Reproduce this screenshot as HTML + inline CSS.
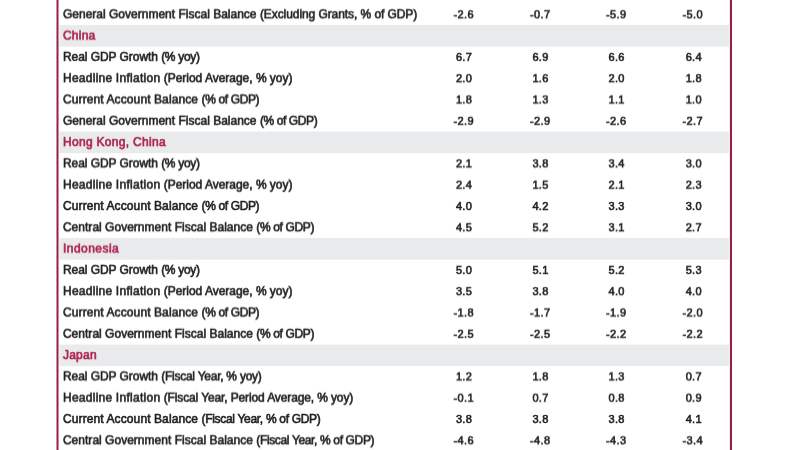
<!DOCTYPE html>
<html><head><meta charset="utf-8"><title>Economic Indicators</title>
<style>
html,body{margin:0;padding:0;background:#fff;}
body{width:800px;height:450px;overflow:hidden;position:relative;font-family:"Liberation Sans",sans-serif;font-size:12px;color:#231f20;}
.bg{position:absolute;left:0;top:0;}
.lab,.n{position:absolute;left:0;top:0;height:22px;line-height:22px;white-space:pre;-webkit-text-stroke:0.6px currentColor;}
.h{color:#ad2450;-webkit-text-stroke:0.65px currentColor;}
.n{text-align:right;width:60px;font-size:11px;}
</style></head><body>

<svg class="bg" width="800" height="450" viewBox="0 0 800 450"><rect x="59.3" y="25.05" width="669.5" height="21.6" fill="#e9eaec"/><rect x="59.3" y="131.55" width="669.5" height="21.6" fill="#e9eaec"/><rect x="59.3" y="238.05" width="669.5" height="21.6" fill="#e9eaec"/><rect x="59.3" y="344.55" width="669.5" height="21.6" fill="#e9eaec"/><rect x="56.5" y="0" width="2" height="450" fill="#94204a"/><rect x="729.9" y="0" width="2.1" height="450" fill="#94204a"/></svg>
<svg width="0" height="0" style="position:absolute"><defs><filter id="f1" x="-2%" y="-15%" width="104%" height="130%" color-interpolation-filters="sRGB"><feConvolveMatrix order="1 2" kernelMatrix="0.9 0.1" targetX="0" targetY="1" edgeMode="none" preserveAlpha="false" divisor="1"/></filter><filter id="f2" x="-2%" y="-15%" width="104%" height="130%" color-interpolation-filters="sRGB"><feConvolveMatrix order="1 2" kernelMatrix="0.8 0.2" targetX="0" targetY="1" edgeMode="none" preserveAlpha="false" divisor="1"/></filter><filter id="f3" x="-2%" y="-15%" width="104%" height="130%" color-interpolation-filters="sRGB"><feConvolveMatrix order="1 2" kernelMatrix="0.7 0.3" targetX="0" targetY="1" edgeMode="none" preserveAlpha="false" divisor="1"/></filter><filter id="f4" x="-2%" y="-15%" width="104%" height="130%" color-interpolation-filters="sRGB"><feConvolveMatrix order="1 2" kernelMatrix="0.6 0.4" targetX="0" targetY="1" edgeMode="none" preserveAlpha="false" divisor="1"/></filter><filter id="f5" x="-2%" y="-15%" width="104%" height="130%" color-interpolation-filters="sRGB"><feConvolveMatrix order="1 2" kernelMatrix="0.5 0.5" targetX="0" targetY="1" edgeMode="none" preserveAlpha="false" divisor="1"/></filter><filter id="f6" x="-2%" y="-15%" width="104%" height="130%" color-interpolation-filters="sRGB"><feConvolveMatrix order="1 2" kernelMatrix="0.4 0.6" targetX="0" targetY="1" edgeMode="none" preserveAlpha="false" divisor="1"/></filter><filter id="f7" x="-2%" y="-15%" width="104%" height="130%" color-interpolation-filters="sRGB"><feConvolveMatrix order="1 2" kernelMatrix="0.3 0.7" targetX="0" targetY="1" edgeMode="none" preserveAlpha="false" divisor="1"/></filter><filter id="f8" x="-2%" y="-15%" width="104%" height="130%" color-interpolation-filters="sRGB"><feConvolveMatrix order="1 2" kernelMatrix="0.2 0.8" targetX="0" targetY="1" edgeMode="none" preserveAlpha="false" divisor="1"/></filter><filter id="f9" x="-2%" y="-15%" width="104%" height="130%" color-interpolation-filters="sRGB"><feConvolveMatrix order="1 2" kernelMatrix="0.1 0.9" targetX="0" targetY="1" edgeMode="none" preserveAlpha="false" divisor="1"/></filter></defs></svg>
<div><span class="lab" style="left:62.95px;top:3px;filter:url(#f3)"><span style="letter-spacing:0.006px;word-spacing:-0.006px">General Government Fiscal Balance </span><span style="letter-spacing:-0.074px">(Excluding Grants, % of GDP)</span></span><span class="n" style="left:414.10px;top:3px;letter-spacing:0.4px;filter:url(#f3)">-2.6</span><span class="n" style="left:490.60px;top:3px;letter-spacing:0.4px;filter:url(#f3)">-0.7</span><span class="n" style="left:566.60px;top:3px;letter-spacing:0.4px;filter:url(#f3)">-5.9</span><span class="n" style="left:643.10px;top:3px;letter-spacing:0.4px;filter:url(#f3)">-5.0</span></div>
<div><span class="lab h" style="left:62.95px;top:24px;letter-spacing:0.248px;filter:url(#f6)">China</span></div>
<div><span class="lab" style="left:62.95px;top:45px;filter:url(#f9)"><span style="letter-spacing:-0.070px;word-spacing:0.070px">Real GDP Growth </span><span style="letter-spacing:-0.312px">(% yoy)</span></span><span class="n" style="left:412.10px;top:45px;letter-spacing:0.3px;filter:url(#f9)">6.7</span><span class="n" style="left:488.60px;top:45px;letter-spacing:0.3px;filter:url(#f9)">6.9</span><span class="n" style="left:564.70px;top:45px;letter-spacing:0.3px;filter:url(#f9)">6.6</span><span class="n" style="left:641.90px;top:45px;letter-spacing:0.3px;filter:url(#f9)">6.4</span></div>
<div><span class="lab" style="left:62.95px;top:67px;filter:url(#f2)"><span style="letter-spacing:0.275px;word-spacing:-0.275px">Headline Inflation </span><span style="letter-spacing:-0.018px">(Period Average, % yoy)</span></span><span class="n" style="left:412.10px;top:67px;letter-spacing:0.3px;filter:url(#f2)">2.0</span><span class="n" style="left:488.60px;top:67px;letter-spacing:0.3px;filter:url(#f2)">1.6</span><span class="n" style="left:564.70px;top:67px;letter-spacing:0.3px;filter:url(#f2)">2.0</span><span class="n" style="left:641.90px;top:67px;letter-spacing:0.3px;filter:url(#f2)">1.8</span></div>
<div><span class="lab" style="left:62.95px;top:88px;filter:url(#f5)"><span style="letter-spacing:0.118px;word-spacing:-0.118px">Current Account Balance </span><span style="letter-spacing:-0.360px">(% of GDP)</span></span><span class="n" style="left:412.10px;top:88px;letter-spacing:0.3px;filter:url(#f5)">1.8</span><span class="n" style="left:488.60px;top:88px;letter-spacing:0.3px;filter:url(#f5)">1.3</span><span class="n" style="left:564.70px;top:88px;letter-spacing:0.3px;filter:url(#f5)">1.1</span><span class="n" style="left:641.90px;top:88px;letter-spacing:0.3px;filter:url(#f5)">1.0</span></div>
<div><span class="lab" style="left:62.95px;top:109px;filter:url(#f8)"><span style="letter-spacing:0.006px;word-spacing:-0.006px">General Government Fiscal Balance </span><span style="letter-spacing:-0.394px">(% of GDP)</span></span><span class="n" style="left:414.10px;top:109px;letter-spacing:0.4px;filter:url(#f8)">-2.9</span><span class="n" style="left:490.60px;top:109px;letter-spacing:0.4px;filter:url(#f8)">-2.9</span><span class="n" style="left:566.60px;top:109px;letter-spacing:0.4px;filter:url(#f8)">-2.6</span><span class="n" style="left:643.10px;top:109px;letter-spacing:0.4px;filter:url(#f8)">-2.7</span></div>
<div><span class="lab h" style="left:62.95px;top:131px;letter-spacing:0.315px;filter:url(#f1)">Hong Kong, China</span></div>
<div><span class="lab" style="left:62.95px;top:152px;filter:url(#f4)"><span style="letter-spacing:-0.070px;word-spacing:0.070px">Real GDP Growth </span><span style="letter-spacing:-0.312px">(% yoy)</span></span><span class="n" style="left:412.10px;top:152px;letter-spacing:0.3px;filter:url(#f4)">2.1</span><span class="n" style="left:488.60px;top:152px;letter-spacing:0.3px;filter:url(#f4)">3.8</span><span class="n" style="left:564.70px;top:152px;letter-spacing:0.3px;filter:url(#f4)">3.4</span><span class="n" style="left:641.90px;top:152px;letter-spacing:0.3px;filter:url(#f4)">3.0</span></div>
<div><span class="lab" style="left:62.95px;top:173px;filter:url(#f7)"><span style="letter-spacing:0.275px;word-spacing:-0.275px">Headline Inflation </span><span style="letter-spacing:-0.018px">(Period Average, % yoy)</span></span><span class="n" style="left:412.10px;top:173px;letter-spacing:0.3px;filter:url(#f7)">2.4</span><span class="n" style="left:488.60px;top:173px;letter-spacing:0.3px;filter:url(#f7)">1.5</span><span class="n" style="left:564.70px;top:173px;letter-spacing:0.3px;filter:url(#f7)">2.1</span><span class="n" style="left:641.90px;top:173px;letter-spacing:0.3px;filter:url(#f7)">2.3</span></div>
<div><span class="lab" style="left:62.95px;top:195px"><span style="letter-spacing:0.118px;word-spacing:-0.118px">Current Account Balance </span><span style="letter-spacing:-0.360px">(% of GDP)</span></span><span class="n" style="left:412.10px;top:195px;letter-spacing:0.3px">4.0</span><span class="n" style="left:488.60px;top:195px;letter-spacing:0.3px">4.2</span><span class="n" style="left:564.70px;top:195px;letter-spacing:0.3px">3.3</span><span class="n" style="left:641.90px;top:195px;letter-spacing:0.3px">3.0</span></div>
<div><span class="lab" style="left:62.95px;top:216px;filter:url(#f3)"><span style="letter-spacing:0.020px;word-spacing:-0.020px">Central Government Fiscal Balance </span><span style="letter-spacing:-0.360px">(% of GDP)</span></span><span class="n" style="left:412.10px;top:216px;letter-spacing:0.3px;filter:url(#f3)">4.5</span><span class="n" style="left:488.60px;top:216px;letter-spacing:0.3px;filter:url(#f3)">5.2</span><span class="n" style="left:564.70px;top:216px;letter-spacing:0.3px;filter:url(#f3)">3.1</span><span class="n" style="left:641.90px;top:216px;letter-spacing:0.3px;filter:url(#f3)">2.7</span></div>
<div><span class="lab h" style="left:62.95px;top:237px;letter-spacing:0.475px;filter:url(#f6)">Indonesia</span></div>
<div><span class="lab" style="left:62.95px;top:258px;filter:url(#f9)"><span style="letter-spacing:-0.070px;word-spacing:0.070px">Real GDP Growth </span><span style="letter-spacing:-0.312px">(% yoy)</span></span><span class="n" style="left:412.10px;top:258px;letter-spacing:0.3px;filter:url(#f9)">5.0</span><span class="n" style="left:488.60px;top:258px;letter-spacing:0.3px;filter:url(#f9)">5.1</span><span class="n" style="left:564.70px;top:258px;letter-spacing:0.3px;filter:url(#f9)">5.2</span><span class="n" style="left:641.90px;top:258px;letter-spacing:0.3px;filter:url(#f9)">5.3</span></div>
<div><span class="lab" style="left:62.95px;top:280px;filter:url(#f2)"><span style="letter-spacing:0.275px;word-spacing:-0.275px">Headline Inflation </span><span style="letter-spacing:-0.018px">(Period Average, % yoy)</span></span><span class="n" style="left:412.10px;top:280px;letter-spacing:0.3px;filter:url(#f2)">3.5</span><span class="n" style="left:488.60px;top:280px;letter-spacing:0.3px;filter:url(#f2)">3.8</span><span class="n" style="left:564.70px;top:280px;letter-spacing:0.3px;filter:url(#f2)">4.0</span><span class="n" style="left:641.90px;top:280px;letter-spacing:0.3px;filter:url(#f2)">4.0</span></div>
<div><span class="lab" style="left:62.95px;top:301px;filter:url(#f5)"><span style="letter-spacing:0.118px;word-spacing:-0.118px">Current Account Balance </span><span style="letter-spacing:-0.360px">(% of GDP)</span></span><span class="n" style="left:414.10px;top:301px;letter-spacing:0.4px;filter:url(#f5)">-1.8</span><span class="n" style="left:490.60px;top:301px;letter-spacing:0.4px;filter:url(#f5)">-1.7</span><span class="n" style="left:566.60px;top:301px;letter-spacing:0.4px;filter:url(#f5)">-1.9</span><span class="n" style="left:643.10px;top:301px;letter-spacing:0.4px;filter:url(#f5)">-2.0</span></div>
<div><span class="lab" style="left:62.95px;top:322px;filter:url(#f8)"><span style="letter-spacing:0.020px;word-spacing:-0.020px">Central Government Fiscal Balance </span><span style="letter-spacing:-0.360px">(% of GDP)</span></span><span class="n" style="left:414.10px;top:322px;letter-spacing:0.4px;filter:url(#f8)">-2.5</span><span class="n" style="left:490.60px;top:322px;letter-spacing:0.4px;filter:url(#f8)">-2.5</span><span class="n" style="left:566.60px;top:322px;letter-spacing:0.4px;filter:url(#f8)">-2.2</span><span class="n" style="left:643.10px;top:322px;letter-spacing:0.4px;filter:url(#f8)">-2.2</span></div>
<div><span class="lab h" style="left:62.95px;top:344px;letter-spacing:0.237px;filter:url(#f1)">Japan</span></div>
<div><span class="lab" style="left:62.95px;top:365px;filter:url(#f4)"><span style="letter-spacing:-0.070px;word-spacing:0.070px">Real GDP Growth </span><span style="letter-spacing:-0.251px">(Fiscal Year, % yoy)</span></span><span class="n" style="left:412.10px;top:365px;letter-spacing:0.3px;filter:url(#f4)">1.2</span><span class="n" style="left:488.60px;top:365px;letter-spacing:0.3px;filter:url(#f4)">1.8</span><span class="n" style="left:564.70px;top:365px;letter-spacing:0.3px;filter:url(#f4)">1.3</span><span class="n" style="left:641.90px;top:365px;letter-spacing:0.3px;filter:url(#f4)">0.7</span></div>
<div><span class="lab" style="left:62.95px;top:386px;filter:url(#f7)"><span style="letter-spacing:0.275px;word-spacing:-0.275px">Headline Inflation </span><span style="letter-spacing:-0.123px">(Fiscal Year, Period Average, % yoy)</span></span><span class="n" style="left:414.10px;top:386px;letter-spacing:0.4px;filter:url(#f7)">-0.1</span><span class="n" style="left:488.60px;top:386px;letter-spacing:0.3px;filter:url(#f7)">0.7</span><span class="n" style="left:564.70px;top:386px;letter-spacing:0.3px;filter:url(#f7)">0.8</span><span class="n" style="left:641.90px;top:386px;letter-spacing:0.3px;filter:url(#f7)">0.9</span></div>
<div><span class="lab" style="left:62.95px;top:408px"><span style="letter-spacing:0.118px;word-spacing:-0.118px">Current Account Balance </span><span style="letter-spacing:-0.307px">(Fiscal Year, % of GDP)</span></span><span class="n" style="left:412.10px;top:408px;letter-spacing:0.3px">3.8</span><span class="n" style="left:488.60px;top:408px;letter-spacing:0.3px">3.8</span><span class="n" style="left:564.70px;top:408px;letter-spacing:0.3px">3.8</span><span class="n" style="left:641.90px;top:408px;letter-spacing:0.3px">4.1</span></div>
<div><span class="lab" style="left:62.95px;top:429px;filter:url(#f3)"><span style="letter-spacing:0.020px;word-spacing:-0.020px">Central Government Fiscal Balance </span><span style="letter-spacing:-0.354px">(Fiscal Year, % of GDP)</span></span><span class="n" style="left:414.10px;top:429px;letter-spacing:0.4px;filter:url(#f3)">-4.6</span><span class="n" style="left:490.60px;top:429px;letter-spacing:0.4px;filter:url(#f3)">-4.8</span><span class="n" style="left:566.60px;top:429px;letter-spacing:0.4px;filter:url(#f3)">-4.3</span><span class="n" style="left:643.10px;top:429px;letter-spacing:0.4px;filter:url(#f3)">-3.4</span></div>
</body></html>
